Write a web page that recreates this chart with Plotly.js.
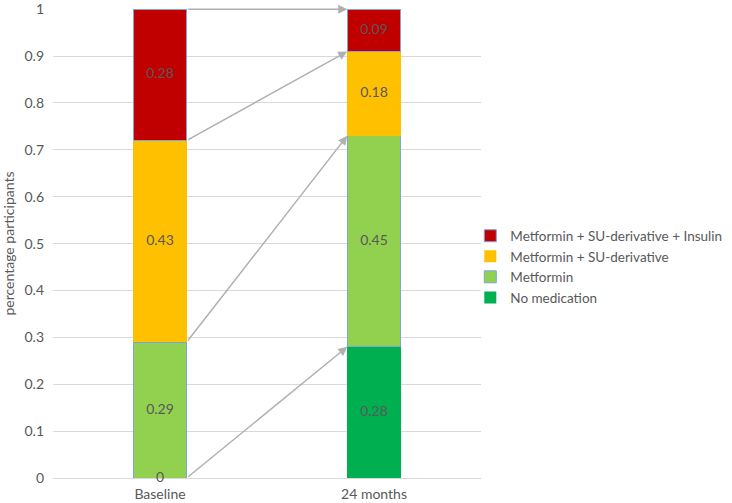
<!DOCTYPE html>
<html>
<head>
<meta charset="utf-8">
<script src="https://cdn.plot.ly/plotly-3.0.1.min.js"></script>
<style>html,body{margin:0;padding:0;background:#fff;}#chart{width:732px;height:503px;}</style>
</head>
<body>
<div id="chart"></div>
<script>
const categories = ["Baseline", "24 months"];
const seriesNames = ["No medication", "Metformin", "Metformin + SU-derivative", "Metformin + SU-derivative + Insulin"];
const noMedication = [0, 0.28];
const metformin = [0.29, 0.45];
const metforminSU = [0.43, 0.18];
const metforminSUInsulin = [0.28, 0.09];
const yTickVals = [0, 0.1, 0.2, 0.3, 0.4, 0.5, 0.6, 0.7, 0.8, 0.9, 1];
const yTickText = ["0", "0.1", "0.2", "0.3", "0.4", "0.5", "0.6", "0.7", "0.8", "0.9", "1"];

const series = [noMedication, metformin, metforminSU, metforminSUInsulin];
const colors = ["#00B050", "#92D050", "#FFC000", "#C00000"];
const borders = ["rgba(0,0,0,0)", "#7BA7D8", "rgba(0,0,0,0)", "#7BA7D8"];
const FONT = "Lato, 'Open Sans', sans-serif";
const LABEL = "#595959";

const traces = [];
series.forEach((vals, i) => {
  traces.push({
    type: "bar", name: seriesNames[i], x: categories, y: vals,
    marker: {color: colors[i], line: {color: borders[i], width: borders[i].startsWith("rgba") ? 0 : 1}},
    hoverinfo: "name+y"
  });
});

const tops = series.map((_, i) => categories.map((c, j) => series.slice(0, i + 1).reduce((s, v) => s + v[j], 0)));
const bottoms = series.map((_, i) => categories.map((c, j) => series.slice(0, i).reduce((s, v) => s + v[j], 0)));

series.forEach((vals, i) => {
  traces.push({
    type: "scatter", mode: "text", x: categories,
    y: vals.map((v, j) => bottoms[i][j] + v / 2),
    text: vals.map(v => String(v)),
    textfont: {family: FONT, size: 14, color: LABEL},
    showlegend: false, hoverinfo: "skip", cliponaxis: false
  });
});

const barWidth = 0.25;
const annotations = series.map((_, i) => ({
  x: 1 - barWidth / 2, y: tops[i][1], xref: "x", yref: "y",
  ax: 0 + barWidth / 2, ay: tops[i][0], axref: "x", ayref: "y",
  text: "", showarrow: true, arrowhead: 2, arrowsize: 1.2, arrowwidth: 1.5,
  arrowcolor: "#B0B0B0", standoff: 0, startstandoff: 0
}));

const layout = {
  width: 732, height: 503,
  margin: {l: 53, r: 251, t: 9, b: 25, autoexpand: false},
  paper_bgcolor: "#fff", plot_bgcolor: "#fff",
  barmode: "stack", bargap: 0.75,
  font: {family: FONT, color: LABEL, size: 14},
  xaxis: {type: "category", range: [-0.5, 1.5], showgrid: false, showline: false, zeroline: false,
    ticks: "", tickfont: {family: FONT, size: 14, color: LABEL}, ticklabelstandoff: 6, fixedrange: true},
  yaxis: {range: [0, 1.0005], tickvals: yTickVals, ticktext: yTickText, showgrid: true, gridcolor: "#D9D9D9", gridwidth: 1,
    zeroline: true, zerolinecolor: "#D9D9D9", zerolinewidth: 1, showline: false, ticks: "",
    ticklabeloverflow: "allow",
    tickfont: {family: FONT, size: 14, color: LABEL}, ticklabelstandoff: 8,
    title: {text: "percentage participants", font: {family: FONT, size: 14, color: LABEL}, standoff: 8}},
  legend: {x: 0.975, xanchor: "left", y: 0.45, yanchor: "middle", traceorder: "reversed",
    font: {family: FONT, size: 13.5, color: LABEL}, itemwidth: 30, tracegroupgap: 0, bgcolor: "rgba(0,0,0,0)"},
  annotations: annotations,
  showlegend: true
};

Plotly.newPlot("chart", traces, layout, {displayModeBar: false, staticPlot: true});
</script>
</body>
</html>
